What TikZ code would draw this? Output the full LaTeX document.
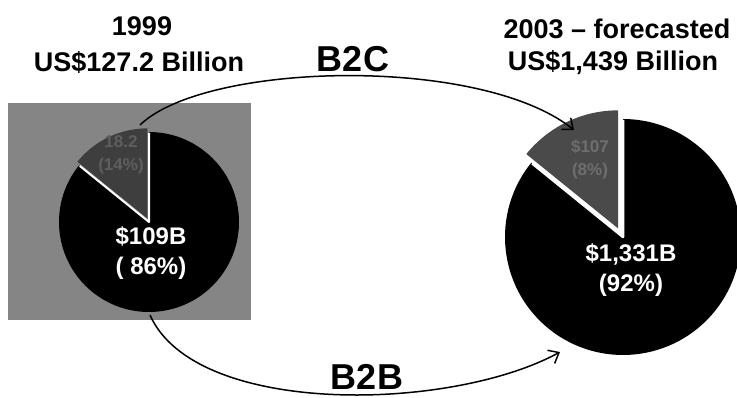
\documentclass[tikz,border=0pt]{standalone}
\usepackage{fontspec}
\setmainfont{Liberation Sans}
\usetikzlibrary{arrows.meta}
\definecolor{panelgray}{HTML}{858585}
\definecolor{slicegrayA}{HTML}{3E3E3E}
\definecolor{slicegrayB}{HTML}{4A4A4A}
\definecolor{dimtextA}{HTML}{5E5E5E}
\definecolor{dimtextB}{HTML}{6E6E6E}
\tikzset{
  header/.style={font=\fontsize{27}{30}\selectfont\bfseries, anchor=base, inner sep=0pt},
  flowlabel/.style={font=\fontsize{36}{40}\selectfont\bfseries, anchor=base, inner sep=0pt},
  slicetext/.style={font=\fontsize{24}{28}\selectfont\bfseries, text=white, align=center, inner sep=0pt},
  smalltext/.style={font=\fontsize{17}{21}\selectfont\bfseries, align=center, inner sep=0pt},
  flow/.style={line width=1.5pt, -{Straight Barb[length=9pt,width=15pt,line width=1.5pt]}},
  sliceedge/.style={draw=white, line join=round},
}
\begin{document}
\begin{tikzpicture}[x=1pt,y=1pt]
  \useasboundingbox (0,0) rectangle (737,397);

  % shaded panel behind the 1999 chart
  \fill[panelgray] (8,77) rectangle (251,294);

  % 1999 pie: main slice and slightly pulled-out small slice
  \coordinate (cA) at (149,175);
  \fill[black] (cA) -- ++(141:90) arc[start angle=141, end angle=450, radius=90] -- cycle;
  \draw[sliceedge, line width=2pt] ([shift={(141:89)}]cA) -- (cA) -- ([shift={(90:89)}]cA);
  \fill[slicegrayA]
    ([shift={(115:4)}]cA) -- ++(90:90) arc[start angle=90, end angle=141, radius=90] -- cycle;

  % 2003 pie: main slice and pulled-out small slice
  \coordinate (cB) at (623,160);
  \fill[black] (cB) -- ++(141:118) arc[start angle=141, end angle=450, radius=118] -- cycle;
  \draw[sliceedge, line width=2.5pt] ([shift={(141:117)}]cB) -- (cB) -- ([shift={(90:117)}]cB);
  \fill[slicegrayB]
    ([shift={(120:10)}]cB) -- ++(90:118) arc[start angle=90, end angle=141, radius=118] -- cycle;

  % headings
  \node[header] (yA) at (142,361) {1999};
  \node[header] (vA) at (139,325) {US\$127.2 Billion};
  \node[header] (yB) at (617,358) {2003 – forecasted};
  \node[header] (vB) at (613,326) {US\$1,439 Billion};

  % slice labels
  \node[slicetext] (mA) at (151,144) {\$109B\\[2pt]( 86\%)};
  \node[slicetext] (mB) at (631,127) {\$1,331B\\[2pt](92\%)};
  \node[smalltext, text=dimtextA] (sA) at (121,242) {18.2\\[2pt](14\%)};
  \node[smalltext, text=dimtextB] (sB) at (590,238) {\$107\\[2pt](8\%)};

  % flow arrows
  \coordinate (fromC) at (140,272);
  \coordinate (toC) at (574,267);
  \coordinate (fromB) at (150,82);
  \coordinate (toB) at (560,45);
  \draw[flow] (fromC) .. controls (205,335) and (480,342) .. (toC);
  \draw[flow] (fromB) .. controls (195,-20) and (450,-15) .. (toB);

  \node[flowlabel] (b2c) at (353,325) {B2C};
  \node[flowlabel] (b2b) at (367,8) {B2B};
\end{tikzpicture}
\end{document}
